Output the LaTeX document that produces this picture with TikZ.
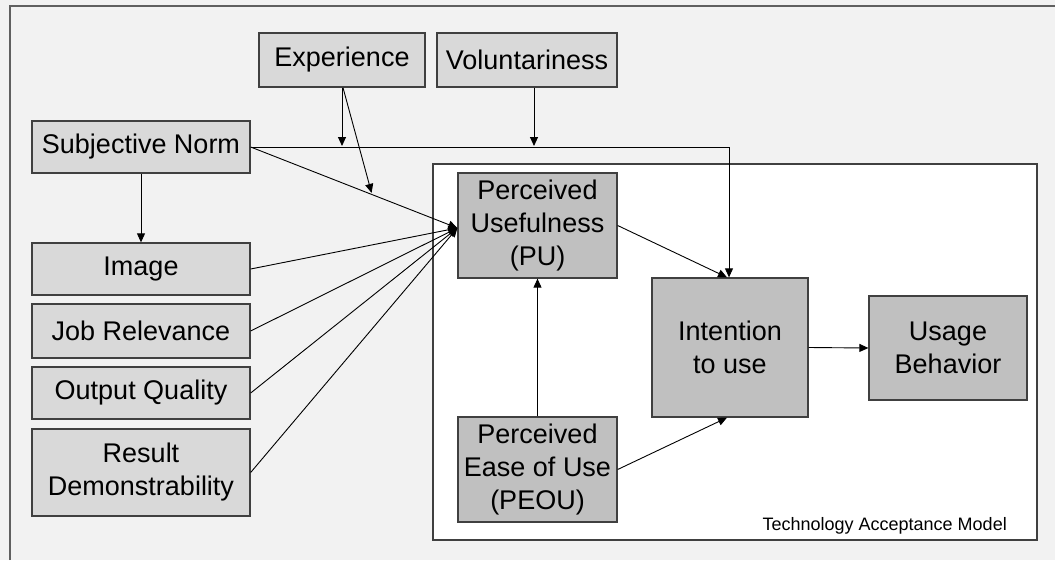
\documentclass[tikz,border=0pt]{standalone}
\usepackage{fontspec}
\setmainfont{Liberation Sans}
\usetikzlibrary{arrows.meta,calc}
\definecolor{bgc}{HTML}{F2F2F2}
\definecolor{framec}{HTML}{606060}
\definecolor{boxline}{HTML}{404040}
\definecolor{lightbox}{HTML}{D9D9D9}
\definecolor{darkbox}{HTML}{C0C0C0}
\tikzset{
  base/.style={draw=boxline, line width=1.3pt, inner sep=0pt, align=center,
    font=\fontsize{27}{33}\selectfont, text=black},
  factor/.style={base, fill=lightbox},
  tambox/.style={base, fill=darkbox},
  conn/.style={draw=black, line width=0.9pt},
  arr/.style={conn, -{Triangle[length=9pt,width=8pt]}},
}
\begin{document}
\begin{tikzpicture}[x=1pt,y=-1pt]
\useasboundingbox (0,0) rectangle (1055,560);
\fill[bgc] (0,0) rectangle (1055,560);
\draw[framec, line width=2pt] (10,560) -- (10,6) -- (1055,6);
% TAM container
\node[draw=boxline, fill=white, line width=1.3pt, minimum width=604pt, minimum height=376pt, inner sep=0pt] (tam) at (735,352) {};
\node[anchor=base east, inner sep=0pt, font=\fontsize{18}{20}\selectfont] (tamlabel) at (1007,530) {Technology Acceptance Model};
% external factors
\node[factor, minimum width=166pt, minimum height=54pt] (exp) at (342,60) {Experience};
\node[factor, minimum width=180pt, minimum height=54pt] (vol) at (527,60) {Voluntariness};
\node[factor, minimum width=218pt, minimum height=52pt] (sn) at (141,147) {Subjective Norm};
\node[factor, minimum width=218pt, minimum height=52pt] (img) at (141,269) {Image};
\node[factor, minimum width=218pt, minimum height=54pt] (job) at (141,331) {Job Relevance};
\node[factor, minimum width=218pt, minimum height=52pt] (out) at (141,393) {Output Quality};
\node[factor, minimum width=218pt, minimum height=87pt] (res) at (141,472.5) {Result\\Demonstrability};
% TAM core
\node[tambox, minimum width=159pt, minimum height=105pt] (pu) at (537.5,225.5) {Perceived\\Usefulness\\(PU)};
\node[tambox, minimum width=159pt, minimum height=105pt] (peou) at (537.5,469.5) {Perceived\\Ease of Use\\(PEOU)};
\node[tambox, minimum width=156pt, minimum height=139pt] (int) at (730,347.5) {Intention\\to use};
\node[tambox, minimum width=158pt, minimum height=104pt] (ub) at (948,348) {Usage\\Behavior};
% connectors
\coordinate (conv) at ([yshift=-2.5pt]pu.west);
\coordinate (corner) at ([xshift=-1pt]int.north |- sn.east);
\draw[arr] (sn.east) -- (corner) -- ([xshift=-1pt]int.north);
\draw[arr] (sn.east) -- (conv);
\draw[arr] (img.east) -- (conv);
\draw[arr] (job.east) -- (conv);
\draw[arr] (out.east) -- (conv);
\draw[arr] (res.east) -- (conv);
\draw[arr] (sn.south) -- (img.north);
\coordinate (expA) at (exp.south |- sn.east);
\draw[arr] (exp.south) -- ([yshift=1pt]expA);
\coordinate (expB) at ($(sn.east)!0.585!(conv)$);
\draw[arr] ([xshift=1pt]exp.south) -- ([yshift=1.5pt]expB);
\coordinate (volA) at ([xshift=7pt]vol.south |- sn.east);
\draw[arr] ([xshift=7pt]vol.south) -- ([yshift=1pt]volA);
\draw[arr] (pu.east) -- ([xshift=-3pt]int.north);
\draw[arr] (peou.east) -- ([xshift=-3pt]int.south);
\draw[arr] (peou.north) -- (pu.south);
\draw[arr] (int.east) -- (ub.west);
\end{tikzpicture}
\end{document}
